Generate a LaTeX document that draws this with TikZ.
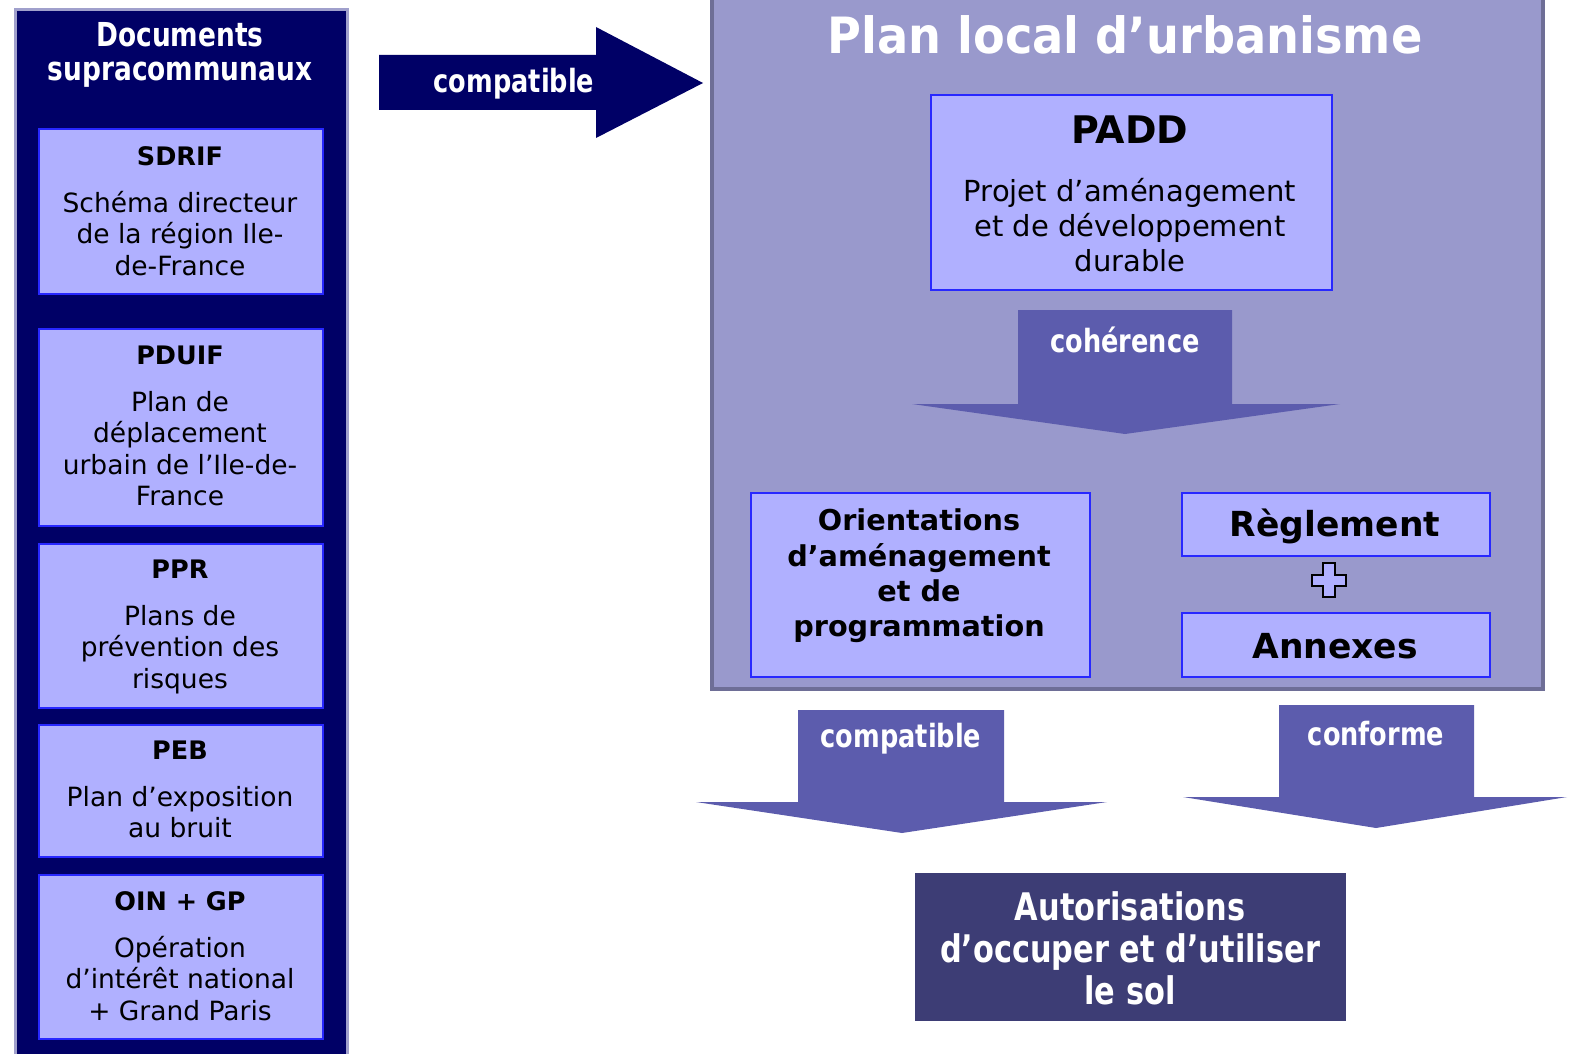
\documentclass[tikz,border=0pt]{standalone}
\usepackage{fontspec}
\setmainfont{DejaVu Sans}
\newfontfamily\heavy[FakeStretch=0.8]{DejaVu Sans}
\newfontfamily\narrowb[FakeStretch=0.925]{DejaVu Sans}
\definecolor{navy}{RGB}{0,0,102}
\definecolor{navyedge}{RGB}{160,160,204}
\definecolor{boxfill}{RGB}{176,176,255}
\definecolor{boxedge}{RGB}{40,40,255}
\definecolor{plufill}{RGB}{153,153,204}
\definecolor{pluedge}{RGB}{110,110,150}
\definecolor{arrowfill}{RGB}{92,92,173}
\definecolor{autfill}{RGB}{61,61,117}
\tikzset{
  docbox/.style={draw=boxedge, fill=boxfill, line width=2pt, inner sep=0pt},
  doctitle/.style={font=\fontsize{25.5}{30}\selectfont\bfseries, inner sep=0pt, anchor=center},
  doctext/.style={font=\fontsize{26.5}{31.5}\selectfont, align=center, inner sep=0pt, anchor=north},
  bigarrow/.style={fill=arrowfill, draw=none},
  arrowlabel/.style={font=\fontsize{32}{34}\selectfont\heavy\bfseries, text=white, inner sep=0pt},
}
\begin{document}
\begin{tikzpicture}[x=1pt,y=-1pt]
\useasboundingbox (0,0) rectangle (1577,1054);
\fill[white] (0,0) rectangle (1577,1054);

% left panel
\node[draw=navyedge, fill=navy, line width=3pt, minimum width=332pt, minimum height=1060pt, anchor=north west, inner sep=0pt] (supra) at (14,8) {};
\node[font=\fontsize{33}{34}\selectfont\heavy\bfseries, text=white, align=center, inner sep=0pt] (supratitle) at (180,55) {Documents\\supracommunaux};

% SDRIF
\node[docbox, minimum width=284pt, minimum height=165pt, anchor=north west] (sdrif) at (38,128) {};
\node[doctitle] (sdrift) at (180,156) {SDRIF};
\node[doctext] (sdrifx) at (180,191) {Schéma directeur\\de la région Ile-\\de-France};
% PDUIF
\node[docbox, minimum width=284pt, minimum height=197pt, anchor=north west] (pduif) at (38,328) {};
\node[doctitle] (pduift) at (180,355) {PDUIF};
\node[doctext] (pduifx) at (180,391) {Plan de\\déplacement\\urbain de l’Ile-de-\\France};
% PPR
\node[docbox, minimum width=284pt, minimum height=164pt, anchor=north west] (ppr) at (38,543) {};
\node[doctitle] (pprt) at (180,569) {PPR};
\node[doctext] (pprx) at (180,605) {Plans de\\prévention des\\risques};
% PEB
\node[docbox, minimum width=284pt, minimum height=132pt, anchor=north west] (peb) at (38,724) {};
\node[doctitle] (pebt) at (180,750) {PEB};
\node[doctext] (pebx) at (180,786) {Plan d’exposition\\au bruit};
% OIN
\node[docbox, minimum width=284pt, minimum height=164pt, anchor=north west] (oin) at (38,874) {};
\node[doctitle] (oint) at (180,901) {OIN + GP};
\node[doctext] (oinx) at (180,936) {Opération\\d’intérêt national\\+ Grand Paris};

% compatible right arrow
\fill[navy] (379,55) -- (596,55) -- (596,27) -- (703,83) -- (596,138) -- (596,110) -- (379,110) -- cycle;
\node[arrowlabel] (compat1) at (514,84) {compatible};

% PLU panel
\node[draw=pluedge, fill=plufill, line width=4pt, minimum width=831pt, minimum height=710pt, anchor=south west, inner sep=0pt] (plu) at (710,691) {};
\node[font=\fontsize{50}{52}\selectfont\narrowb\bfseries, text=white, inner sep=0pt] (plut) at (1125,35) {Plan local d’urbanisme};

% PADD
\node[docbox, minimum width=401pt, minimum height=195pt, anchor=north west] (padd) at (930,94) {};
\node[font=\fontsize{38}{40}\selectfont\bfseries, inner sep=0pt] (paddt) at (1130,130) {PADD};
\node[font=\fontsize{29}{35}\selectfont, align=center, inner sep=0pt, anchor=north] (paddx) at (1130,178) {Projet d’aménagement\\et de développement\\durable};

% coherence arrow
\fill[bigarrow] (1018,310) -- (1232,310) -- (1232,404) -- (1340,404) -- (1125,434) -- (912,404) -- (1018,404) -- cycle;
\node[arrowlabel] (coher) at (1125,340) {cohérence};

% OAP
\node[docbox, minimum width=339pt, minimum height=184pt, anchor=north west] (oap) at (750,492) {};
\node[font=\fontsize{28.7}{35.3}\selectfont\bfseries, align=center, inner sep=0pt] (oapx) at (919,576) {Orientations\\d’aménagement\\et de\\programmation};

% Reglement & annexes
\node[docbox, minimum width=308pt, minimum height=63pt, anchor=north west] (regl) at (1181,492) {};
\node[font=\fontsize{34.5}{36}\selectfont\bfseries, inner sep=0pt] (reglt) at (1335,526) {Règlement};
\node[docbox, minimum width=308pt, minimum height=64pt, anchor=north west] (annex) at (1181,612) {};
\node[font=\fontsize{34.5}{36}\selectfont\bfseries, inner sep=0pt] (annext) at (1335,646) {Annexes};
\draw[fill=boxfill, draw=black, line width=1.2pt] (1323,563) -- (1335,563) -- (1335,575) -- (1346,575) -- (1346,586) -- (1335,586) -- (1335,597) -- (1323,597) -- (1323,586) -- (1312,586) -- (1312,575) -- (1323,575) -- cycle;

% bottom arrows
\fill[bigarrow] (798,710) -- (1004,710) -- (1004,802) -- (1107,802) -- (902,833) -- (696,802) -- (798,802) -- cycle;
\node[arrowlabel] (compat2) at (901,739) {compatible};
\fill[bigarrow] (1279,705) -- (1474,705) -- (1474,797) -- (1567,797) -- (1376,828) -- (1183,797) -- (1279,797) -- cycle;
\node[arrowlabel] (conf) at (1376,734) {conforme};

% autorisations
\node[fill=autfill, minimum width=431pt, minimum height=148pt, anchor=north west, inner sep=0pt] (aut) at (915,873) {};
\node[font=\fontsize{38}{42}\selectfont\heavy\bfseries, text=white, align=center, inner sep=0pt] (autx) at (1130,948) {Autorisations\\d’occuper et d’utiliser\\le sol};
\end{tikzpicture}
\end{document}
